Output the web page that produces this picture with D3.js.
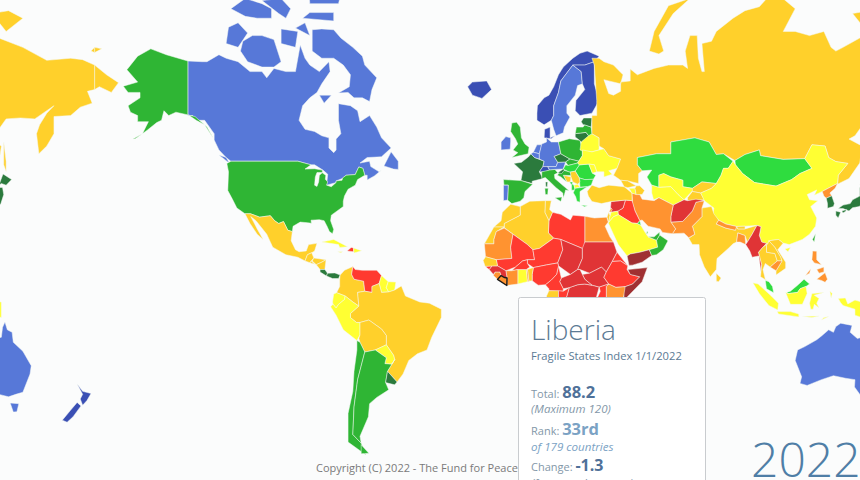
<!DOCTYPE html>
<html>
<head>
<meta charset="utf-8">
<script src="https://cdn.jsdelivr.net/npm/d3@7"></script>
<style>
  html, body { margin: 0; padding: 0; background: #fbfcfc; overflow: hidden; }
  svg { display: block; }
  text { font-family: "Open Sans", sans-serif; }
</style>
</head>
<body>
<div id="map"></div>
<script>
// Fragile States Index bins
const fsiBreaks = [20, 30, 40, 50, 60, 70, 80, 90, 100, 110];
const fsiColors = ["#3a4fb4", "#5778d8", "#2b7a3d", "#2fb534", "#2fdc3f", "#ffff33", "#ffd02b", "#ff9330", "#ff3a30", "#e03436", "#a03032"];

const europeNames = ["Norway", "Sweden", "Finland", "Denmark", "Iceland", "UK", "Ireland", "France", "Spain", "Portugal", "Netherlands", "Belgium", "Germany", "Switzerland", "Austria", "Czechia", "Poland", "Slovakia", "Hungary", "Romania", "Bulgaria", "Serbia", "Bosnia", "Croatia", "Slovenia", "Albania", "N. Macedonia", "Montenegro", "Greece", "Italy", "Belarus", "Ukraine", "Moldova", "Lithuania", "Latvia", "Estonia"];
const europeTotals = [14.5, 21, 14.2, 17, 15, 41, 20.5, 31, 41, 22, 23, 25, 23, 18, 24, 37, 44, 42, 52, 53, 53, 72, 74, 48, 36, 58, 62, 55, 51, 43, 68, 69, 64, 38, 42, 39];

const asiaNames = ["Russia", "Kazakhstan", "Uzbekistan", "Turkmenistan", "Kyrgyzstan", "Tajikistan", "Mongolia", "China", "India", "Pakistan", "Afghanistan", "Iran", "Iraq", "Syria", "Turkey", "Saudi Arabia", "Yemen", "Oman", "UAE", "Kuwait", "Qatar", "Jordan", "Israel", "Lebanon", "Georgia", "Armenia", "Azerbaijan", "Bangladesh", "Nepal", "Bhutan", "Myanmar", "Thailand", "Laos", "Vietnam", "Cambodia", "Malaysia", "Indonesia", "Philippines", "Japan", "North Korea", "South Korea", "Taiwan", "Sri Lanka"];
const asiaTotals = [75, 53, 66, 68, 71, 72, 52, 67, 75, 89, 103, 85, 96, 108, 79, 66, 112, 48, 43, 55, 45, 68, 70, 85, 70, 68, 72, 85, 82, 72, 100, 75, 72, 74, 86, 56, 68, 84, 33, 88, 34, 40, 78];

const africaNames = ["Egypt", "Libya", "Tunisia", "Algeria", "Morocco", "Western Sahara", "Mauritania", "Mali", "Niger", "Chad", "Sudan", "South Sudan", "Eritrea", "Ethiopia", "Somalia", "Kenya", "Uganda", "DR Congo", "CAR", "Cameroon", "Nigeria", "Benin", "Togo", "Ghana", "Burkina Faso", "Ivory Coast", "Liberia", "Sierra Leone", "Guinea", "Guinea-Bissau", "Senegal", "Gabon", "Congo"];
const africaTotals = [86, 97, 72, 76, 72, 72, 87, 99, 96, 106, 106, 109, 95, 99, 110, 88, 94, 107, 107, 97, 98, 75, 84, 64, 94, 89, 88.2, 84, 101, 91, 74, 70, 92];

const americasNames = ["Canada", "USA", "Mexico", "Guatemala", "El Salvador", "Honduras", "Nicaragua", "Costa Rica", "Panama", "Colombia", "Venezuela", "Guyana", "Suriname", "Brazil", "Ecuador", "Peru", "Bolivia", "Paraguay", "Chile", "Argentina", "Uruguay", "Cuba", "Haiti", "Dominican Republic", "Jamaica"];
const americasTotals = [21, 44, 71, 78, 72, 76, 78, 36, 38, 78, 92, 64, 65, 75, 68, 68, 77, 65, 42, 47, 34, 62, 99, 66, 60];

const oceaniaNames = ["Australia", "New Zealand"];
const oceaniaTotals = [21, 15.5];

// outlines read as [lon, lat]
const outlines = {
  "Norway": [[[5,59],[5,60.5],[5.2,62],[8,63.5],[10,64],[12,65.5],[14,67.5],[16,68.7],[20,70],[23,70.7],[26,71],[31,70.3],[29,69.5],[25,69],[20,69],[15,66.5],[14,64.5],[12,62],[12,60],[11,59],[8,58]]],
  "Sweden": [[[11,59],[12,60],[12,62],[14,64.5],[15,66.5],[20,69],[23.5,68],[24,66],[22,65.7],[21,64],[17.5,62],[17.5,60.5],[18.8,59.7],[16.5,57.5],[16,56.2],[13,55.5],[12,57]]],
  "Finland": [[[21,61],[21.3,63],[25,65],[24,66],[23.5,68],[20,69],[25,69],[29,69.5],[29,66],[31,63],[28,60.5],[23,60]]],
  "Denmark": [[[8,55],[8.2,57],[10.5,57.5],[10.5,55],[12.5,55.5],[11,54.8]]],
  "Iceland": [[[-24,65.5],[-22,66.3],[-16,66.5],[-14,65],[-18,63.4],[-22,64]]],
  "UK": [[[-5.5,50],[1.3,51],[1.7,52.7],[0,53.5],[-1.5,55],[-2,57.5],[-3.5,58.6],[-5.5,58.4],[-6,56.5],[-4,54.8],[-3,53.5],[-5,52],[-3,51.3]]],
  "Ireland": [[[-10,52],[-6.2,52.2],[-6,54],[-6,55],[-8,55.3],[-10,54]]],
  "France": [[[-4.7,48.4],[-1.5,48.7],[1.5,50.2],[2.5,51],[4,50],[8,49],[7.5,47.5],[6,46],[7.5,44],[3,43.2],[3,42.5],[-1.7,43.4],[-1,46]], [[8.6,43],[9.5,43],[9.3,41.4],[8.7,41.6]]],
  "Spain": [[[-9,43.7],[-1.7,43.4],[3.2,42.3],[0,40],[-0.5,38],[-2,36.8],[-5.5,36],[-7.3,37.2],[-7,42],[-8.8,42]]],
  "Portugal": [[[-9,42],[-7,42],[-7.3,37.2],[-9,37]]],
  "Netherlands": [[[3.5,51.4],[6,51],[7,53.3],[5,53.3]]],
  "Belgium": [[[2.5,51],[3.5,51.4],[6,51],[6,49.6],[4,50]]],
  "Germany": [[[6,51],[7,53.5],[9,54],[9,55],[11,54],[14,54],[15,51],[12.2,50.3],[13.7,48.7],[13,47.5],[7.5,47.5],[8,49],[6,49.6]]],
  "Switzerland": [[[6,46],[7.5,47.5],[9.5,47.5],[10.3,46.5],[8,46]]],
  "Austria": [[[9.5,47.5],[13,47.5],[13.7,48.7],[17,48.8],[16,46.8],[12.5,46.7],[10.3,46.5]]],
  "Czechia": [[[12.2,50.3],[15,51],[18.8,49.6],[17,48.8],[13.7,48.7]]],
  "Poland": [[[14,54],[18.5,54.8],[23,54.4],[24,52],[24,50.5],[22.5,49],[18.8,49.6],[15,51]]],
  "Slovakia": [[[17,48.8],[18.8,49.6],[22.5,49],[22,48.5],[18,47.8]]],
  "Hungary": [[[16,46.8],[17,48],[18,47.8],[22,48.5],[22.8,48],[21,46.2],[18.5,45.9]]],
  "Romania": [[[21,46.2],[22.8,48],[26.7,48.2],[28.2,45.6],[29.6,45],[28.6,43.8],[25,43.7],[22.7,44.2]]],
  "Bulgaria": [[[22.7,44.2],[25,43.7],[28.6,43.8],[27.7,42],[26,41.5],[23,41.4]]],
  "Serbia": [[[18.9,45.9],[21,46.2],[22.7,44.2],[23,43],[22,42.3],[20,43],[19.2,44.5]]],
  "Bosnia": [[[16,45],[19.2,44.5],[19,43],[17.5,43]]],
  "Croatia": [[[13.6,45],[14,45.5],[16,46.5],[18.9,45.9],[19.2,44.9],[16,45],[17.5,43],[15,44.5]]],
  "Slovenia": [[[13.7,45.7],[16,46.8],[16.5,46.5],[15.3,45.5]]],
  "Albania": [[[19.5,42.5],[20.5,42],[20.9,40.5],[19.5,40.4]]],
  "N. Macedonia": [[[20.5,42],[22,42.3],[23,41.4],[20.9,41]]],
  "Montenegro": [[[18.7,43],[20,43],[19.5,42]]],
  "Greece": [[[20.2,39.6],[21,41],[26,41.5],[24,40.5],[23,40],[23,38],[23,36.5],[21.7,36.8],[21.2,38.3]], [[23.6,35.5],[26.2,35.3],[24.8,34.9]]],
  "Italy": [[[7,44],[7,46],[10.3,46.5],[12.5,46.7],[13.7,45.7],[12.3,45.2],[12.5,44],[16,41.8],[18.5,40.2],[17,40.5],[16.5,39],[16,38],[15.8,39.5],[13,41.2],[10.5,43],[8.5,44.3]], [[12.5,38],[15.5,38.2],[15,36.7]], [[8.3,41],[9.7,41],[9.5,39],[8.5,39]]],
  "Belarus": [[[23,52],[23.5,54],[26,55.5],[28,56],[31,55],[31,53],[31,52],[28,51.5],[24,51.7]]],
  "Ukraine": [[[24,52],[24,50.5],[22.5,49],[22,48.5],[22.8,48],[26.7,48.2],[29,48],[30,46],[33,46],[33,44.5],[36.5,45.3],[35,46.3],[38.5,47],[40,49.6],[35,50.5],[33,52.3],[31,52],[28,51.5]]],
  "Moldova": [[[26.7,48.2],[29,48],[30,46],[28.2,45.6]]],
  "Lithuania": [[[21,56],[25.5,56.3],[26.6,55.5],[23.5,54],[22.8,54.4],[21,55.2]]],
  "Latvia": [[[21,56],[21.5,57.5],[24.3,57.5],[25,58],[27.7,57.5],[28,56],[26.6,55.5],[25.5,56.3]]],
  "Estonia": [[[23.5,58.7],[24.5,59.5],[28,59.5],[27.7,57.5],[25,58],[24.3,58]]],

  "Russia": [
    [[28,70],[31,70],[33,69.5],[37,69],[41,67.5],[40,66],[35,66.5],[33,66.7],[35,64.3],[37,64],[40,64.7],[40,66.3],[44,66.5],[44,68.4],[47,67.5],[54,68.5],[60,69],[66,69],[68,68.5],[67,71],[69,73],[72,73],[72.5,70],[74,68],[75,68],[74,72],[78,72.3],[80,73.5],[87,75],[92,75.8],[98,76.2],[104,77.7],[113,76],[108,73.5],[113,73.5],[119,73],[125,73.5],[128,71.5],[130,71],[133,71.5],[140,72.7],[150,71.5],[160,69.7],[170,70],[175,69.8],[180,69],[180,65],[177,64.7],[179,62.5],[174,61.7],[170,60],[163,59.8],[163,56],[160,53],[156.7,51],[155.7,56],[157,58],[160,60.5],[163,62],[155,59.3],[149,59.5],[143,59.3],[138,55.5],[135.5,54.7],[141,53],[140,48.5],[135.5,44],[130.7,42.3],[131,45],[135,48.4],[130,48.9],[127,50],[125.5,53],[120,53.3],[117,49.7],[108,49.5],[98.5,50.5],[98,52],[92,50.8],[87.8,49.2],[83,51],[80,50.8],[77,54],[71,55],[61,54],[61,51],[55,51],[47,50],[47,48],[49,46.3],[47.5,45.5],[47.5,42.5],[43,43.3],[40,43.5],[37,45],[38.5,47],[40,49.6],[35,50.5],[33,52.3],[31,53],[31,55],[28,56],[28,60],[30,60],[30,63],[29,69]],
    [[-180,69],[-175,67.5],[-170,66.2],[-173,64.5],[-178,65.5],[-180,65]],
    [[142,54],[143,49],[143,46],[142,48]],
    [[52,71],[56,70.6],[58,71],[56,73],[62,75.5],[69,77],[60,76.3],[54,73.5]],
    [[137,75.5],[144,75.8],[150,75],[143,73.5]],
    [[178.5,71],[180,71.5],[180,70.8]],
    [[-180,71.5],[-177,71.3],[-180,70.8]]
  ],
  "Kazakhstan": [[[47,50],[55,51],[61,51],[61,54],[71,55],[77,54],[80,50.8],[83,51],[87,49],[85,47],[83,47],[82,45],[80,42.5],[74,43],[70,41],[66,41.5],[66,43.5],[61,44.5],[58,45.5],[56,45],[56,41.3],[53,42],[51,44.5],[53,46.5],[49,46.3],[47,48]]],
  "Uzbekistan": [[[56,45],[58,45.5],[61,44.5],[66,43.5],[66,41.5],[70,41],[71,41],[68,38.5],[66.5,37.3],[64,39],[61,41.5],[56,41.3]]],
  "Turkmenistan": [[[53,42],[56,41.3],[61,41.5],[64,39],[66.5,37.3],[62,35.5],[56,38],[53.8,37.3],[53,39.5]]],
  "Kyrgyzstan": [[[70,41],[74,43],[80,42.5],[78,41],[73.5,39.5],[70,40]]],
  "Tajikistan": [[[68,38],[70,40],[73.5,39.5],[75,37.3],[71.5,37],[68,37]]],
  "Mongolia": [[[87.8,49.2],[92,50.8],[98,52],[98.5,50.5],[108,49.5],[117,49.7],[120,47],[115,45.5],[111.5,43.7],[105,41.7],[96,42.8],[91,45.5],[88,48]]],
  "China": [[[73.5,39.5],[78,41],[80,42.5],[82,45],[83,47],[85,47],[87,49],[88,48],[91,45.5],[96,42.8],[105,41.7],[111.5,43.7],[115,45.5],[120,47],[117,49.7],[120,53.3],[125.5,53],[127,50],[130,48.9],[135,48.4],[131,45],[130.7,42.5],[128,41.5],[124.3,40],[121,38.8],[122,40.5],[118,39],[119,37.3],[122.5,37],[119.5,35],[122,31],[121.5,28],[119,25],[116,23],[110.5,21],[108,21.6],[106,23],[102,22.5],[101.5,21.2],[99,22],[98,24.5],[98.7,27.8],[97,28.3],[92,28],[88.5,27.9],[84,28.8],[81,30.2],[78.5,32],[79,34.5],[75,37]], [[108.7,19.3],[111,19.9],[110,18.2]]],
  "India": [[[74,34.5],[78,35],[79,32.5],[81,30.2],[80,28.8],[84,27.3],[88,26.5],[88.2,27.8],[89,27],[92,27],[97,28.3],[95,25],[93,22],[92,24.5],[89,25.5],[88.5,22],[87,21.3],[85,19.5],[80.3,15.5],[80,11],[77.5,8],[75,12],[73,17],[72.8,21],[70,21],[68.5,23.5],[71,25],[70,28],[74,31.5]]],
  "Pakistan": [[[74,34.5],[74,31.5],[70,28],[71,25],[68.5,23.7],[66.5,25.4],[61.6,25.2],[63,27],[61,29.5],[66,29.8],[70,33.5],[71.5,36.5],[75,37]]],
  "Afghanistan": [[[61,29.5],[66,29.8],[70,33.5],[71.5,36.5],[75,37],[71.5,37.5],[68,37],[66.5,37.3],[62,35.5],[61,31.5]]],
  "Iran": [[[44.7,39.5],[48,39],[49,37.5],[54,37],[56,38],[62,35.5],[61,31.5],[61,29.5],[63,27],[61.6,25.2],[57.5,25.7],[56.5,27],[51.5,28],[49,30.3],[48,30],[46,33.5],[45,36]]],
  "Iraq": [[[42,37.2],[44.8,37],[46,33.5],[48,30],[47,29],[44.7,29.2],[39,32.2],[38.8,33.4],[41,34.5]]],
  "Syria": [[[36,36.7],[42,37.2],[41,34.5],[38.8,33.4],[36,33],[35.8,35]]],
  "Turkey": [[[26,40],[28,42],[31,41.2],[35,42],[41.5,41.5],[44.7,39.5],[44.8,37],[42,37.2],[36,36.7],[32,36],[28,36.7],[26.5,38.5]]],
  "Saudi Arabia": [[[34.8,29.3],[37,31.5],[39,32.2],[44.7,29.2],[47,29],[48.5,28.3],[50,26],[51.5,24],[55,22.7],[55.5,20],[52,19],[48,18],[44,17.3],[42.7,16.5],[39,21],[37,25]]],
  "Yemen": [[[42.7,16.5],[44,17.3],[48,18],[52,19],[53,16.7],[49,14],[45,12.8],[43.5,12.7]]],
  "Oman": [[[55.5,20],[55,22.7],[56.3,24.7],[59.8,22.5],[57.8,19],[55,17],[53,16.7],[52,19]]],
  "UAE": [[[51.5,24],[54,24],[56.3,25.8],[56.3,24.7],[55,22.7]]],
  "Kuwait": [[[47,29],[48,30],[48.5,28.4]]],
  "Qatar": [[[50.8,24.7],[51.5,25.8],[51,26]]],
  "Jordan": [[[36,33],[38.8,33.4],[39,32.2],[37,31.5],[34.8,29.3],[35.5,31.5]]],
  "Israel": [[[34.3,31.3],[35,33],[35.5,32],[35,29.5]]],
  "Lebanon": [[[35.2,33.2],[36,34.5],[36.5,34],[35.8,33]]],
  "Georgia": [[[40,43.5],[43,43.3],[46.5,41.8],[43,41.2],[41.5,41.5]]],
  "Armenia": [[[43.5,41],[46,41],[46.5,39],[44.7,39.5]]],
  "Azerbaijan": [[[46,41],[46.5,41.8],[48,41.8],[50,40.3],[49,39],[46.5,39]]],
  "Bangladesh": [[[88.5,22],[89,25.5],[92,24.5],[92.3,21],[90,22]]],
  "Nepal": [[[80,28.8],[81,30.2],[84,28.8],[88.5,27.9],[88,26.5],[84,27.3]]],
  "Bhutan": [[[89,27],[88.5,27.9],[92,28],[92,27]]],
  "Myanmar": [[[92.3,21],[93,22],[95,25],[97,28.3],[98.7,27.8],[98,24.5],[99,22],[101,21.5],[99.5,20],[97.7,18],[99,13],[98.7,10],[97.8,16.5],[95,16],[94,18.5]]],
  "Thailand": [[[97.7,18],[99.5,20],[101,21],[101,18],[104.5,17.5],[105.5,14.5],[102.5,12],[100.5,13.5],[99.5,11],[100.5,7],[102,6],[98.5,8],[99,13]]],
  "Laos": [[[101,21],[101.5,21.2],[102,22.5],[104.5,20],[107,16],[107.5,14.5],[105.5,14.5],[104.5,17.5],[101,18]]],
  "Vietnam": [[[102,22.5],[106,23],[108,21.6],[105.7,19],[109,14],[109,11.5],[105,8.7],[105,10.5],[107.5,14.5],[107,16],[104.5,20]]],
  "Cambodia": [[[102.5,12],[105.5,14.5],[107.5,14.5],[105,10.5]]],
  "Malaysia": [[[100.5,6.5],[102,6],[103.5,4],[104,1.4],[101,3]], [[109.5,1.5],[111,2],[114,4.5],[116.7,7],[119,5],[117.5,4],[115,3],[114,1.5],[110,1]]],
  "Indonesia": [
    [[109,1.5],[110,1],[114,1.5],[115,3],[117.5,4],[118,1],[116,-3.5],[111,-3.5],[110,-1]],
    [[95.3,5.5],[97.5,5],[103,0],[106,-3],[105.7,-5.8],[102,-4],[98,1]],
    [[105.5,-6.5],[111,-6.5],[114.5,-7.5],[114.5,-8.7],[106,-7.5]],
    [[119.5,-5.5],[119,-3],[120,1],[125,1.5],[121,0.3],[123,-1],[122,-3],[123,-5],[121,-3.5],[120.5,-5.5]],
    [[124,-10],[127,-8.5],[125,-9]],
    [[116,-8.5],[123,-8.3],[120,-9]],
    [[127.5,2],[128.5,1],[128,-0.8]],
    [[131,-1],[134,-0.8],[135,-3.3],[138,-1.7],[141,-2.6],[141,-9],[138,-8],[138,-5.5],[133,-4],[132,-2.8]]
  ],
  "Philippines": [[[120.3,18.5],[122,18.4],[122,15],[124,13],[121,13.7],[120,15]], [[122,7],[125.5,9.7],[126.5,7],[125.5,5.7],[124,6.5]], [[122,11],[125,12],[125,10],[123,9.5]], [[117.3,8.5],[119.5,11.3],[119,9.5]]],
  "Japan": [[[131,34.3],[133,35.5],[136,36],[137,37.3],[140,38.5],[140,41.3],[141.5,41.3],[142,39],[140.8,36],[139.8,35],[137,34.6],[135.5,33.5],[133,34.3]], [[140,42],[141.7,45.4],[145.3,43.7],[143,42],[141,42.5]], [[130,33.5],[132,33],[131,31],[130,32]], [[132.5,33.5],[134.5,34],[134,33.3],[133,32.8]]],
  "North Korea": [[[124.3,40],[128,41.5],[130.7,42.5],[129.7,41],[127.5,39.5],[128.3,38.6],[126,37.8],[125,38.5]]],
  "South Korea": [[[126,37.8],[128.3,38.6],[129.4,36],[129,35],[126.5,34.4],[126.5,36]]],
  "Taiwan": [[[120.2,23],[121.5,25.2],[121,22]]],
  "Sri Lanka": [[[80,9.5],[82,7.5],[81,6],[80,6.2]]],

  "Egypt": [[[25,31.6],[29,31],[34.2,31.3],[34.8,29.5],[33.5,28],[35.5,24],[37,22],[25,22]]],
  "Libya": [[[10,30],[11.5,33],[15,32.3],[19,30.3],[20,32],[25,31.6],[25,20],[24,19.5],[15,23],[12,23.5],[9.8,25.5]]],
  "Tunisia": [[[8.3,33],[8.5,37],[11,37],[10.3,34],[11.5,33],[10,30]]],
  "Algeria": [[[-8.7,27.5],[-8.7,29],[-2,32],[-2,35],[2,36.8],[8.5,37],[8.3,33],[10,30],[9.8,25.5],[12,23.5],[6,19.5],[3.3,19],[1,21],[-5,25]]],
  "Morocco": [[[-6,35.8],[-2,35],[-2,32],[-8.7,29],[-8.7,27.7],[-13,27.7],[-10,30],[-9.5,33]]],
  "Western Sahara": [[[-13,27.7],[-8.7,27.7],[-12,26],[-13,23],[-13,21.3],[-17,21.3]]],
  "Mauritania": [[[-17,21.3],[-13,21.3],[-13,23],[-12,26],[-8.7,27.3],[-5,25],[-6,20],[-5.5,15.5],[-12,15],[-16.5,16.2]]],
  "Mali": [[[-12,15],[-5.5,15.5],[-6,20],[-5,25],[1,21],[3.3,19],[4,15],[1,15],[-1,14.5],[-4,12],[-8,10.5],[-11.5,12.5]]],
  "Niger": [[[3.3,19],[6,19.5],[12,23.5],[15,23],[15.8,19],[13.7,13.7],[9,12.9],[3.5,11.8],[1,13.5],[1,15],[4,15]]],
  "Chad": [[[15,23],[24,19.5],[24,15.5],[22,11],[19,9],[14,12.5],[13.7,13.7],[15.8,19]]],
  "Sudan": [[[24,19.5],[25,22],[37,22],[38.5,18],[36.5,14.3],[34,10],[32,12],[27,9.5],[23,11],[22,11],[24,15.5]]],
  "South Sudan": [[[24,9],[27,9.5],[32,12],[34,10],[33,7.8],[35,5],[31,3.7],[28,4.5],[25,7]]],
  "Eritrea": [[[36.5,14.3],[38.5,18],[43,12.5],[40,14.5]]],
  "Ethiopia": [[[36.5,14.3],[40,14.5],[43,12.5],[42.7,11],[44,9],[48,8],[45,5],[41.9,3.9],[38,3.6],[35,5],[33,7.8],[34,10]]],
  "Somalia": [[[43,11],[51.2,11.8],[49,6],[41.5,-1.7],[41,3.5],[41.9,3.9],[45,5],[48,8],[44,9]]],
  "Kenya": [[[35,5],[38,3.6],[41.9,3.9],[41,-1.7],[39.5,-4.7],[34,-1],[34,4]]],
  "Uganda": [[[31,3.7],[35,5],[34,4],[34,-1],[30,-1.4],[31.5,2]]],
  "DR Congo": [[[18.5,3.5],[22,4.7],[25,5],[28,4.5],[31,3.7],[30,0],[29,-5],[30,-8],[22,-11],[13,-6],[16,-3.5],[17.5,0]]],
  "CAR": [[[14.5,6],[15.2,7.5],[19,9],[22,11],[23,11],[24,9],[25,7],[28,4.5],[25,5],[22,4.7],[18.5,3.5],[16,3]]],
  "Cameroon": [[[8.5,4.7],[10,3],[10,2.2],[16,2],[16,3],[14.5,6],[15.2,7.5],[14,12.5],[13.2,9],[11,6.7]]],
  "Nigeria": [[[3,6.4],[5.5,4.5],[8.5,4.7],[11,6.7],[13.2,9],[14,12.5],[13.7,13.7],[9,12.9],[3.5,11.8],[3,9]]],
  "Benin": [[[1.6,6.2],[3,6.4],[3,9],[3.5,11.8],[1,11]]],
  "Togo": [[[0.5,11],[1,11],[1.6,6.2],[1,6]]],
  "Ghana": [[[-3,5],[1,6],[0.5,11],[-3,11]]],
  "Burkina Faso": [[[-5.5,10.5],[-3,11],[0.5,11],[2,12],[1,13.5],[1,15],[-1,14.5],[-4,12]]],
  "Ivory Coast": [[[-7.6,4.4],[-3,5],[-3,11],[-5.5,10.5],[-8,10.5],[-7.5,7.5]]],
  "Liberia": [[[-11.5,6.9],[-7.6,4.4],[-7.5,7.5],[-8.5,7.7],[-10,8.5]]],
  "Sierra Leone": [[[-13.2,8.5],[-11.5,6.9],[-10,8.5],[-10.5,10],[-12.5,10]]],
  "Guinea": [[[-15,11],[-13.2,9],[-12.5,10],[-10.5,10],[-10,8.5],[-8.5,7.7],[-7.5,7.5],[-8,10.5],[-11.5,12.5],[-13.7,12.6]]],
  "Guinea-Bissau": [[[-16.7,12.3],[-13.7,12.6],[-15,11]]],
  "Senegal": [[[-17.5,14.7],[-16.5,16.2],[-12,15],[-11.5,12.5],[-16.7,12.3]]],
  "Gabon": [[[9,0],[10,2.2],[14,2.2],[14,-1],[11,-3.7],[9,-1.5]]],
  "Congo": [[[11.5,-4.5],[14,-1],[14,2.2],[16,2],[18.5,3.5],[17.5,0],[16,-3.5],[13,-4.8]]],

  "Canada": [
    [[-141,69.6],[-135,69.5],[-133,69.5],[-128,70.5],[-125,70],[-120,69.5],[-115,68],[-110,68],[-108,67],[-105,68.5],[-100,68],[-96,68],[-94,71.8],[-92,70],[-90,69],[-86,68],[-82,69.5],[-81.5,68],[-85,66],[-87,64.5],[-90,63.5],[-93,62],[-94.5,59],[-92,57],[-88,56.5],[-85,55.5],[-82,55],[-82,52.5],[-80,51.3],[-79,52],[-79,54.7],[-77,56],[-78,59],[-78,62.4],[-73,62],[-70,61],[-69,58.7],[-65,60],[-62,57.5],[-60,55],[-56,52.5],[-60,50.2],[-66,50],[-69,48.5],[-65,49],[-64.5,47.5],[-61,46],[-60,46.5],[-63,44.8],[-66,43.6],[-66,45],[-67,45],[-67.8,47],[-69.5,47.4],[-71,45.2],[-74.8,45],[-76.5,44],[-79,43.3],[-79,42.8],[-83,42],[-82.5,45.3],[-84.5,46.5],[-88,48],[-89.5,48],[-95,49],[-123,49],[-125,50],[-128,52],[-130,54.5],[-130,56],[-134,59],[-137.5,59],[-139,60],[-141,60]],
    [[-89,73.7],[-85,73.8],[-80,73.7],[-77,72.7],[-72,71.5],[-68,70.3],[-67,69],[-62,67],[-64,65],[-65,62.8],[-68,63.5],[-71.5,63.5],[-74,64.5],[-78,64.4],[-73.5,65.5],[-73,67.5],[-76,69],[-80,70],[-85,70],[-89,71]],
    [[-119,71],[-116,69.5],[-110,68.7],[-105,68.7],[-102,69.5],[-105,72.5],[-110,73],[-114,73],[-118,72.3]],
    [[-125,72],[-120,71.5],[-116,73.3],[-120,74.5],[-124,74]],
    [[-86,64],[-81,64],[-84,62.5]],
    [[-90,76.5],[-78,76.5],[-75,79],[-62,82.5],[-75,83],[-92,81.5]],
    [[-93,75],[-80,74.7],[-80,75.6],[-90,75.6]],
    [[-123,76],[-117,75.2],[-112,75],[-106,75],[-106,76],[-110,76.5],[-117,77]],
    [[-110,76.8],[-103,75.5],[-100,75],[-98,76],[-102,77]],
    [[-102,72],[-96,71.5],[-95,73.5],[-102,73.8]],
    [[-96,73.9],[-90,73],[-92,74.5]],
    [[-59,47.7],[-55,46.8],[-53,46.7],[-53,49],[-56,51.5]],
    [[-128,50.7],[-123.5,48.4],[-125,50]]
  ],
  "USA": [
    [[-123,49],[-95,49],[-89.5,48],[-92,46.8],[-88,46.9],[-84.8,46.5],[-84.7,45.8],[-87,45.8],[-87.7,44.5],[-88,42],[-87,41.6],[-86.3,43],[-86,45],[-84.8,45.7],[-83.3,45],[-83.5,43.8],[-82.5,43],[-83,42],[-81,41.5],[-79,42.8],[-79,43.3],[-76.5,43.5],[-76.3,44.2],[-74.8,45],[-71,45.2],[-69.5,47.4],[-67.8,47],[-67,45],[-70,43.7],[-71,42],[-74,40.7],[-75.5,38.5],[-76,36.8],[-76,35],[-81,32],[-81.3,30],[-80,26.8],[-80.5,25.2],[-81.8,26],[-82.8,28],[-84,30],[-86,30.4],[-89.5,30.2],[-89.3,29.1],[-91,29.3],[-94,29.5],[-97,28],[-97.3,26],[-99.2,26.5],[-101,29.7],[-103,29],[-104.7,30],[-106.5,31.8],[-111,31.3],[-114.8,32.5],[-117.1,32.5],[-120.5,34.5],[-122.5,37.7],[-124.3,40.3],[-124,46],[-124.7,48.4]],
    [[-141,69.6],[-141,60.2],[-137.5,59],[-134,58],[-130.5,55],[-133,57.5],[-138,59.8],[-146,60.7],[-149,60],[-151,61],[-152,59],[-154,58.5],[-158,56.8],[-163,54.8],[-164,54.7],[-160,56],[-157.5,58.7],[-162,58.7],[-162,60],[-165,60.7],[-166,62],[-161,63.5],[-161,64.5],[-166,64.5],[-168,65.6],[-162,66.3],[-166.5,68.3],[-162,70.3],[-156.5,71.3],[-150,70.5]]
  ],
  "Mexico": [[[-117.1,32.5],[-114.8,32.5],[-111,31.3],[-106.5,31.8],[-104.7,30],[-103,29],[-101,29.7],[-99.2,26.5],[-97.3,26],[-97.8,22.5],[-96,19],[-94.5,18.2],[-91.5,18.5],[-90.5,21],[-87,21.5],[-88,18.5],[-89,17.9],[-91,17],[-92,14.5],[-95,16],[-100,17],[-105.5,20],[-108,25],[-112.5,30],[-114.7,31.5],[-112,27],[-109.5,23],[-112,25],[-115,29]]],
  "Guatemala": [[[-92,14.5],[-91,17],[-89.2,17.8],[-88.3,15.7],[-90,13.8]]],
  "El Salvador": [[[-90,13.8],[-88,13.2],[-89.3,14.4]]],
  "Honduras": [[[-89,14.5],[-88.3,15.7],[-83.2,15],[-85,14],[-87.3,13]]],
  "Nicaragua": [[[-87.3,13],[-85,14],[-83.2,15],[-83.7,11],[-85.7,11]]],
  "Costa Rica": [[[-85.7,11],[-83.7,11],[-82.6,9.5],[-83,8.3],[-85.7,10]]],
  "Panama": [[[-83,8.3],[-82.6,9.5],[-79.5,9.6],[-77.3,8.7],[-78,7.3],[-80.5,7.3]]],
  "Colombia": [[[-77.3,8.7],[-75.5,10.7],[-72,12.2],[-72.5,9],[-71.5,7],[-67.5,6.2],[-67,2],[-70,1.5],[-69.5,-4.2],[-72,-2.5],[-75.2,0],[-78.8,1.4],[-77.5,4],[-77.5,7]]],
  "Venezuela": [[[-72,12.2],[-71,11],[-68,10.7],[-62,10.7],[-60,8.5],[-61,5.2],[-64,4],[-64,1.5],[-67,2],[-67.5,6.2],[-71.5,7],[-72.5,9]]],
  "Guyana": [[[-60,8.5],[-57.2,6],[-58,3.5],[-57,1.7],[-60,1.5],[-61,5.2]]],
  "Suriname": [[[-57.2,6],[-54,5.8],[-54.5,2.5],[-57,1.7],[-58,3.5]]],
  "Brazil": [[[-61,5.2],[-64,4],[-64,1.5],[-67,2],[-70,1.5],[-69.5,-4.2],[-73,-7.3],[-73,-9],[-70.5,-11],[-69,-11],[-65.3,-10],[-60,-13.7],[-58,-16.3],[-58,-20],[-55,-24],[-54.5,-25.7],[-57.5,-30],[-53.5,-33.8],[-51,-31],[-48.6,-26],[-45,-23.5],[-41,-22],[-39,-17],[-35,-9],[-35,-5.5],[-40,-3],[-44,-2.5],[-50,0],[-51.7,4.2],[-54.5,2.5],[-57,1.7],[-60,1.5]]],
  "Ecuador": [[[-80.5,-2.5],[-80,0.8],[-78.8,1.4],[-75.2,0],[-75.5,-1.5],[-78,-3.5],[-79,-5],[-80.3,-3.4]]],
  "Peru": [[[-81.3,-4.5],[-80.3,-3.4],[-79,-5],[-78,-3.5],[-75.5,-1.5],[-75.2,0],[-72,-2.5],[-69.5,-4.2],[-73,-7.3],[-73,-9],[-70.5,-11],[-69,-11],[-69,-16],[-70.3,-18.3],[-76,-14],[-79,-8]]],
  "Bolivia": [[[-69,-11],[-65.3,-10],[-60,-13.7],[-58,-16.3],[-58,-20],[-62.6,-22],[-67,-22.8],[-69,-19],[-69.5,-17.5],[-69,-16]]],
  "Paraguay": [[[-62.6,-22],[-58,-20],[-55,-24],[-54.5,-25.7],[-55.7,-27.4],[-58.6,-27.2],[-58,-25]]],
  "Chile": [[[-70.3,-18.3],[-69,-19],[-67,-22.8],[-70,-33],[-71.5,-42],[-72,-50],[-68.5,-52.3],[-66.5,-55.2],[-74,-52],[-74,-44],[-72,-37],[-71.5,-30],[-70.3,-22]]],
  "Argentina": [[[-67,-22.8],[-62.6,-22],[-58,-25],[-58.6,-27.2],[-55.7,-27.4],[-54.5,-25.7],[-57.5,-30],[-58.3,-34],[-57,-36.5],[-62,-39],[-65,-41],[-65.5,-45],[-69,-50.5],[-68.5,-52.3],[-72,-50],[-71.5,-42],[-70,-33]], [[-68.5,-52.7],[-65.3,-54.8],[-68.5,-54.9]]],
  "Uruguay": [[[-57.5,-30],[-53.5,-33.8],[-54.5,-34.8],[-58.3,-34]]],
  "Cuba": [[[-85,22],[-80,23],[-74.2,20.2],[-77.5,19.9],[-78,21]]],
  "Haiti": [[[-74.4,18.5],[-72.7,19.9],[-71.7,19.7],[-71.7,18.2]]],
  "Dominican Republic": [[[-71.7,19.7],[-68.3,18.6],[-71.5,17.7]]],
  "Jamaica": [[[-78.3,18.2],[-76.3,18.2],[-77,17.8]]],

  "Australia": [[[114,-22],[113,-26],[115.7,-32],[115,-34.3],[118,-35],[124,-33],[129,-31.6],[134,-32.5],[138,-33],[137.8,-35.5],[140,-38],[144,-38.8],[147,-38],[150,-37.3],[153,-31],[153.5,-28],[150,-22.5],[146,-19],[145.5,-15],[143.5,-14],[142.5,-10.8],[141.5,-13],[141,-17],[139,-17.5],[136,-15],[136.8,-12.2],[132,-11.3],[130,-12.7],[129,-15],[127,-14],[124,-16.5],[122,-18],[117,-20.7]], [[144.7,-40.8],[148.3,-41],[147.5,-43.5],[146,-43.6]]],
  "New Zealand": [[[172.7,-34.5],[175,-37],[178.5,-37.7],[176.8,-40],[175,-41.5],[174,-39.5],[175,-38]], [[172.7,-40.6],[174.3,-41.7],[171,-45],[168.5,-46.6],[166.5,-46],[170,-43]]]
};

const highlighted = "Liberia";

const tooltipTitle = "Liberia";
const tooltipSubtitle = "Fragile States Index 1/1/2022";
const tooltipTotal = "88.2";
const tooltipMaximum = "(Maximum 120)";
const tooltipRank = "33rd";
const tooltipOf = "of 179 countries";
const tooltipChange = "-1.3";
const tooltipFrom = "(from previous year)";
const copyright = "Copyright (C) 2022 - The Fund for Peace";
const yearLabel = "2022";

const width = 860;
const height = 480;

const names = [...europeNames, ...asiaNames, ...africaNames, ...americasNames, ...oceaniaNames];
const totals = [...europeTotals, ...asiaTotals, ...africaTotals, ...americasTotals, ...oceaniaTotals];
const countries = names.map((name, i) => ({ name, total: totals[i], rings: outlines[name] }));

const color = d3.scaleThreshold().domain(fsiBreaks).range(fsiColors);

const projection = d3.geoMercator().scale(137).translate([525, 296]);
const worldWidth = 2 * Math.PI * projection.scale();

const ring = d3.line()
  .x((d) => projection(d)[0])
  .y((d) => projection(d)[1]);
const countryPath = (d) => d.rings.map((r) => ring(r) + "Z").join("");

const svg = d3.select("#map")
  .append("svg")
  .attr("width", width)
  .attr("height", height)
  .attr("viewBox", `0 0 ${width} ${height}`);

svg.append("rect").attr("width", width).attr("height", height).attr("fill", "#fbfcfc");

// the map repeats once to the left of the date line
const worlds = svg.selectAll("g.world")
  .data([0, -worldWidth])
  .join("g")
  .attr("class", "world")
  .attr("transform", (d) => `translate(${d},0)`);

worlds.selectAll("path.country")
  .data(countries)
  .join("path")
  .attr("class", "country")
  .attr("d", countryPath)
  .attr("fill", (d) => color(d.total))
  .attr("stroke", "#f4f8f4")
  .attr("stroke-width", 0.5)
  .attr("stroke-linejoin", "round");

worlds.selectAll("path.selected")
  .data(countries.filter((d) => d.name === highlighted))
  .join("path")
  .attr("class", "selected")
  .attr("d", countryPath)
  .attr("fill", (d) => color(d.total))
  .attr("stroke", "#1a1a1a")
  .attr("stroke-width", 1.4)
  .attr("stroke-linejoin", "round");

svg.append("text")
  .attr("x", 316)
  .attr("y", 472)
  .attr("font-size", 11)
  .attr("fill", "#7a7a7a")
  .text(copyright);

svg.append("text")
  .attr("x", 751)
  .attr("y", 477)
  .attr("font-size", 48)
  .attr("font-weight", 300)
  .attr("fill", "#4f7ea6")
  .text(yearLabel);

// tooltip card
const card = svg.append("g");
card.append("rect")
  .attr("x", 518.5)
  .attr("y", 297.5)
  .attr("width", 187)
  .attr("height", 200)
  .attr("rx", 2)
  .attr("fill", "#ffffff")
  .attr("stroke", "#c9cccf")
  .attr("stroke-width", 1);

const slate = "#5b7a94";
const label = "#8397a8";
const darkValue = "#4f7199";
const lightValue = "#7ba2c4";

card.append("text").attr("x", 531).attr("y", 340).attr("font-size", 28).attr("font-weight", 300).attr("fill", slate).text(tooltipTitle);
card.append("text").attr("x", 531).attr("y", 360).attr("font-size", 11.2).attr("fill", slate).text(tooltipSubtitle);

const totalLine = card.append("text").attr("x", 531).attr("y", 398).attr("font-size", 11).attr("fill", label);
totalLine.append("tspan").text("Total: ");
totalLine.append("tspan").attr("font-size", 16.5).attr("font-weight", 700).attr("fill", darkValue).text(tooltipTotal);
card.append("text").attr("x", 531).attr("y", 413).attr("font-size", 11.5).attr("font-style", "italic").attr("fill", label).text(tooltipMaximum);

const rankLine = card.append("text").attr("x", 531).attr("y", 435).attr("font-size", 11).attr("fill", label);
rankLine.append("tspan").text("Rank: ");
rankLine.append("tspan").attr("font-size", 16.5).attr("font-weight", 700).attr("fill", lightValue).text(tooltipRank);
card.append("text").attr("x", 531).attr("y", 451).attr("font-size", 11.6).attr("font-style", "italic").attr("fill", lightValue).text(tooltipOf);

const changeLine = card.append("text").attr("x", 531).attr("y", 471).attr("font-size", 11).attr("fill", label);
changeLine.append("tspan").text("Change: ");
changeLine.append("tspan").attr("font-size", 16).attr("font-weight", 700).attr("fill", darkValue).text(tooltipChange);
card.append("text").attr("x", 531).attr("y", 487).attr("font-size", 11.5).attr("font-style", "italic").attr("fill", label).text(tooltipFrom);
</script>
</body>
</html>
